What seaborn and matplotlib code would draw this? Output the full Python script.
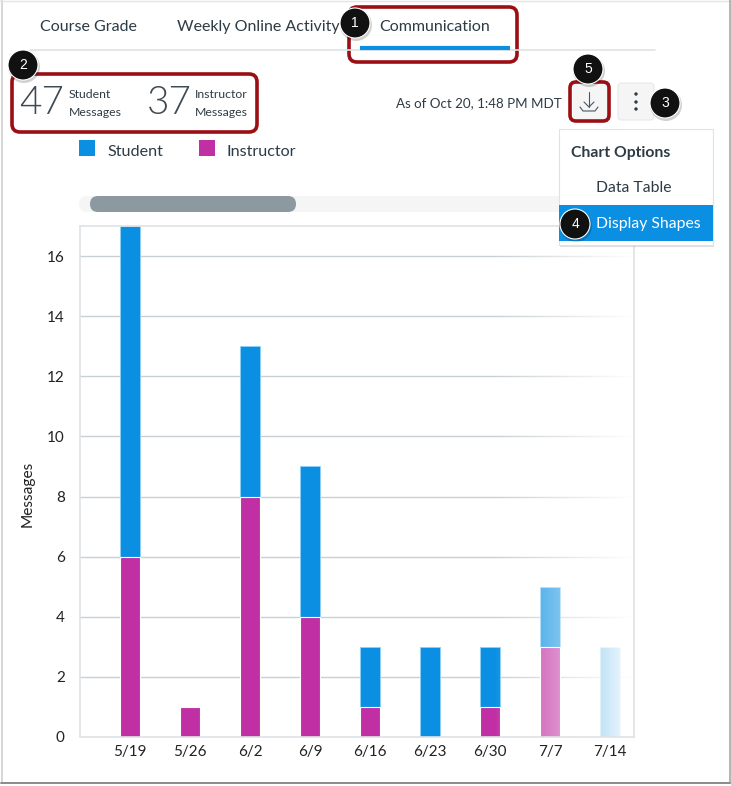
"""
Communication tab — weekly messages chart with the surrounding page furniture
"""

import numpy as np
import pandas as pd
import matplotlib
matplotlib.use("Agg")
import matplotlib.pyplot as plt
import seaborn as sns
from matplotlib.patches import Circle, FancyBboxPatch, Polygon, Rectangle

# ── DATA ────────────────────────────────────────────
WEEKS      = ["5/19", "5/26", "6/2", "6/9", "6/16", "6/23", "6/30", "7/7", "7/14"]
STUDENT    = [11, 0, 5, 5, 2, 3, 2, 2, 3]
INSTRUCTOR = [6, 1, 8, 4, 1, 0, 1, 3, 0]
Y_TICKS    = [0, 2, 4, 6, 8, 10, 12, 14, 16]
# ────────────────────────────────────────────────────

W, H     = 731, 786
BLUE     = "#0a8fe2"
MAGENTA  = "#c02fa3"
DARK     = "#2d3b45"
RED      = "#9b0f14"
LINE     = "#dfe3e6"
X_LIMS   = (-0.834, 8.399)
Y_LIMS   = (0, 17)

sns.set_theme(style="white")
plt.rcParams["font.family"] = ["Lato", "DejaVu Sans"]

fig = plt.figure(figsize=(W / 100, H / 100), dpi=100, facecolor="white")

# ── 1. Chart ─────────────────────────────────────────
ax = fig.add_axes([80 / W, 1 - 737 / H, 554 / W, 511 / H])

df = pd.DataFrame({"week": WEEKS, "student": STUDENT, "instructor": INSTRUCTOR})
df["total"] = df["student"] + df["instructor"]

# stacked look: totals in blue behind, instructor part in front
sns.barplot(data=df, x="week", y="total", color=BLUE, saturation=1, width=0.335,
            edgecolor="#8fd0f5", linewidth=0.6, ax=ax, zorder=2)
sns.barplot(data=df, x="week", y="instructor", color=MAGENTA, saturation=1, width=0.335,
            edgecolor="white", linewidth=0.8, ax=ax, zorder=2.5)

ax.set_xlim(*X_LIMS)
ax.set_ylim(*Y_LIMS)
ax.set_yticks(Y_TICKS)
ax.grid(axis="y", color="#c9d0d4", lw=1, zorder=1)
ax.grid(axis="x", visible=False)
ax.set_axisbelow(True)
ax.set_xlabel("")
ax.set_ylabel("Messages", fontsize=11.2, color="#222222", labelpad=9, y=0.475)
ax.tick_params(axis="both", length=0, labelsize=11, labelcolor="#222222")
ax.tick_params(axis="x", pad=6)
ax.tick_params(axis="y", pad=11)

for side, spine in ax.spines.items():
    spine.set_visible(True)
    spine.set_color(LINE)
    spine.set_linewidth(1.2)
    spine.set_zorder(6)

# white fade over the right end, the chart scrolls on past it
fade = np.zeros((1, 256, 4))
fade[..., :3] = 1
fade[..., 3] = np.clip((np.linspace(80, 634, 256) - 494) / 142, 0, 0.97)
ax.imshow(fade, extent=(0, 1, 0, 1), transform=ax.transAxes, aspect="auto", zorder=4)
ax.set_xlim(*X_LIMS)
ax.set_ylim(*Y_LIMS)

# ── 2. Page furniture, in pixel coordinates ──────────
ui = fig.add_axes([0, 0, 1, 1], facecolor="none")
ui.set_xlim(0, W)
ui.set_ylim(H, 0)
ui.axis("off")


def rbox(x0, y0, x1, y1, r, **kw):
    ui.add_patch(FancyBboxPatch((x0 + r, y0 + r), x1 - x0 - 2 * r, y1 - y0 - 2 * r,
                                boxstyle=f"round,pad={r},rounding_size={r}", **kw))


def label(x, y, s, size, color=DARK, ha="left", **kw):
    ui.text(x, y, s, fontsize=size, color=color, ha=ha, va="center", **kw)


def callout(x, y, s):
    ui.add_patch(Circle((x + 1, y + 2), 16, color="#000000", alpha=0.18, lw=0, zorder=9))
    ui.add_patch(Circle((x, y), 15, facecolor="#111111", edgecolor="white", lw=0.8, zorder=10))
    ui.text(x, y, s, fontsize=10, color="white", ha="center", va="center", zorder=11,
            family=["Liberation Sans", "DejaVu Sans"])


# screenshot frame
ui.plot([1.5, 1.5], [0, 783], color="#cfcfcf", lw=1.2)
ui.plot([0, 730], [0.5, 0.5], color="#e4e4e4", lw=1)
ui.plot([729.5, 729.5], [0, 783], color="#a8a8a8", lw=1.2)
ui.plot([1, 730], [783, 783], color="#8a8a8a", lw=1.4)

# tabs
ui.plot([30, 655], [50, 50], color=LINE, lw=1.2)
label(40, 27, "Course Grade", 11.5)
label(177, 27, "Weekly Online Activity", 11.5)
label(379, 27, "Communication", 11.5)
ui.plot([360, 510], [48, 48], color=BLUE, lw=3, solid_capstyle="butt")
rbox(349, 7, 517, 62, 8, facecolor="none", edgecolor=RED, lw=2.6)

# totals
label(19, 103, "47", 28, color="#3d4a54", fontweight=300)
label(69, 94, "Student", 8.8)
label(69, 113, "Messages", 8.8)
label(147, 103, "37", 28, color="#3d4a54", fontweight=300)
label(195, 94, "Instructor", 8.8)
label(195, 113, "Messages", 8.8)
rbox(12, 74, 257, 132, 8, facecolor="none", edgecolor=RED, lw=2.6)

# legend
ui.add_patch(Rectangle((79, 140), 16, 16, color=BLUE, lw=0))
label(107, 152, "Student", 11.6)
ui.add_patch(Rectangle((199, 140), 16, 16, color=MAGENTA, lw=0))
label(227, 152, "Instructor", 11.6)

# scrollbar
rbox(79, 196, 600, 212, 8, facecolor="#f5f5f5", edgecolor="none")
rbox(90, 196, 296, 212, 8, facecolor="#8d99a1", edgecolor="none")

# toolbar
label(396, 103, "As of Oct 20, 1:48 PM MDT", 9.6)
rbox(573, 84, 607, 119, 4, facecolor="#f5f5f5", edgecolor="none")
rbox(570, 82, 609, 121, 6, facecolor="none", edgecolor=RED, lw=2.6)
ui.plot([589, 589], [92, 107], color="#4a5863", lw=0.8)
ui.plot([584, 589, 594], [102, 107, 102], color="#4a5863", lw=0.8)
ui.plot([580, 583, 595, 598], [107, 111, 111, 107], color="#4a5863", lw=0.8)
rbox(618, 83, 654, 120, 4, facecolor="#f5f5f5", edgecolor="#e8e8e8", lw=0.8)
for dot_y in (94, 102, 109):
    ui.add_patch(Circle((636, dot_y), 1.7, color=DARK, lw=0))

# options menu
ui.add_patch(Rectangle((560, 131), 154, 116, color="#000000", alpha=0.12, lw=0, zorder=3))
ui.add_patch(Rectangle((559, 129), 154, 116, facecolor="white", edgecolor="#e2e2e2", lw=0.8, zorder=3))
ui.add_patch(Polygon([(628, 129), (636, 121), (644, 129)], facecolor="white", edgecolor="none", zorder=3))
ui.add_patch(Rectangle((559, 205), 154, 36, color=BLUE, lw=0, zorder=4))
ui.text(571, 153, "Chart Options", fontsize=11.3, color=DARK, fontweight="bold", va="center", zorder=5)
ui.text(596, 188, "Data Table", fontsize=11.3, color=DARK, va="center", zorder=5)
ui.text(596, 224, "Display Shapes", fontsize=11.3, color="white", va="center", zorder=5)

# numbered callouts
callout(355, 23, "1")
callout(23, 65, "2")
callout(665, 103, "3")
callout(575, 224, "4")
callout(588, 69, "5")

fig.savefig("out.png", dpi=100)
plt.close(fig)
